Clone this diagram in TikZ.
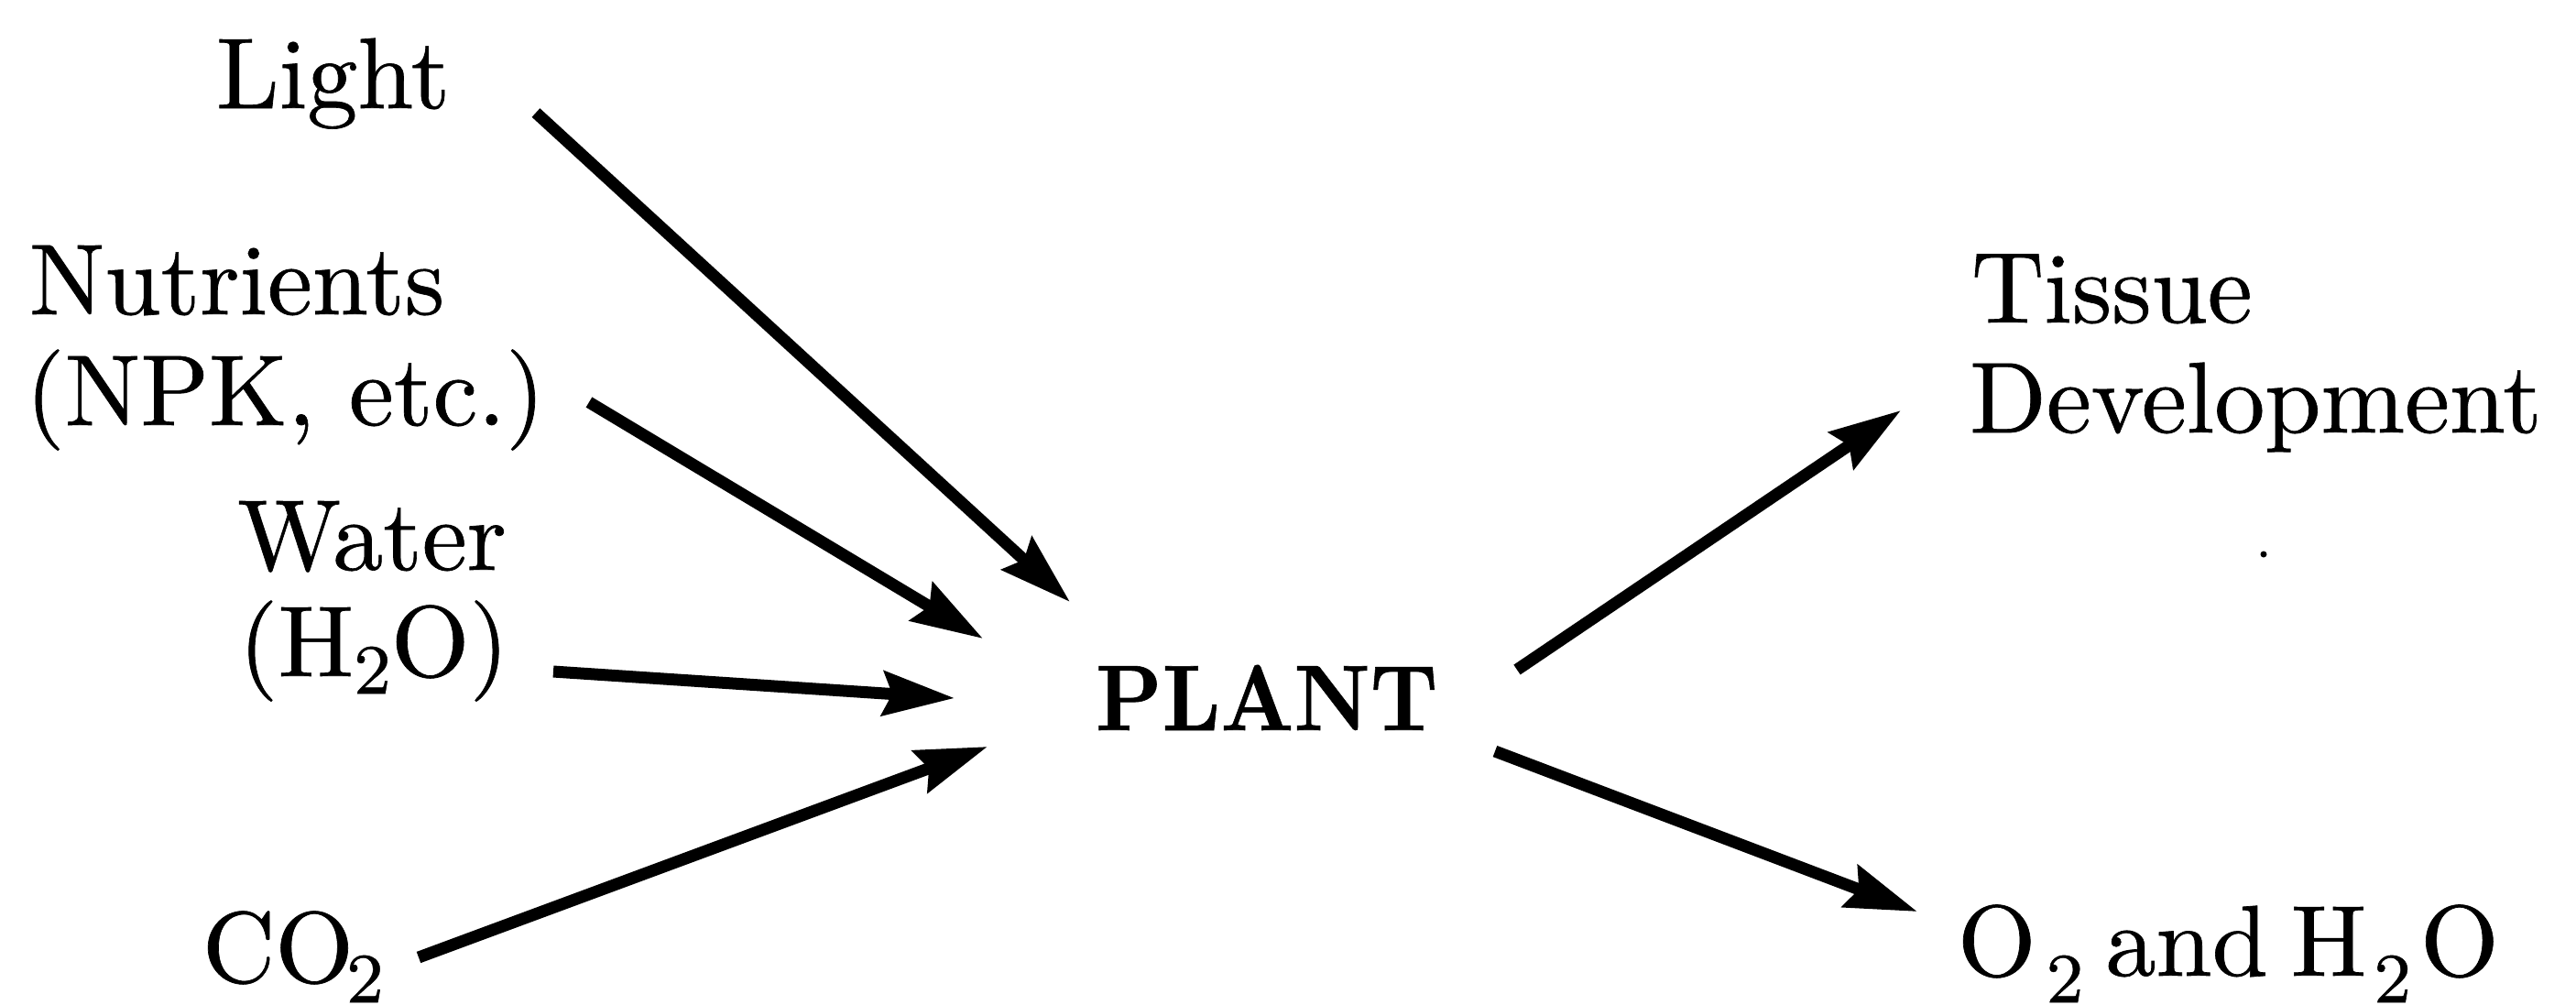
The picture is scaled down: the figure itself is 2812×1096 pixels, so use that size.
\documentclass[tikz,border=0pt]{standalone}
\usepackage{fontspec}
\setmainfont{Latin Modern Roman}[FakeBold=0.6]
\usepackage{graphicx}
\usetikzlibrary{arrows.meta}
% chemical subscript, set lower than the usual text subscript
\newcommand{\lowsub}[2][2.9pt]{\raisebox{-#1}{\fontsize{7.7}{8}\selectfont #2}}

\begin{document}
\begin{tikzpicture}[x=0.1pt,y=-0.1pt,
  lbl/.style={inner sep=0pt, outer sep=0pt, anchor=base west,
              font=\fontsize{11}{12}\selectfont},
  flow/.style={line width=1.3pt, draw=black,
               -{Stealth[length=7.8pt,width=4.8pt,inset=1pt]}}]
\useasboundingbox (0,0) rectangle (2812,1096);

% inputs
\node[lbl] (light) at (236,118) {Light};
\node[lbl] (nutr)  at (32,343)  {Nutrients};
\node[lbl] (npk)   at (28,464)  {(NPK, etc.)};
\node[lbl, anchor=base] (water) at (406,622) {Water};
\node[lbl, anchor=base] (h2o)   at (408,738) {(H\lowsub[1.9pt]{2}O)};
\node[lbl] (co2)   at (221,1072) {CO\hspace{-0.8pt}\lowsub[2.2pt]{2}};

% the plant
\node[lbl, font=\fontsize{10.2}{12}\selectfont\bfseries] (plant) at (1196,797)
  {\scalebox{0.905}[1]{PLANT}};

% outputs
\node[lbl] (tissue) at (2152,352) {Tissue};
\node[lbl] (devel)  at (2150,472) {Development};
\node[lbl] (o2h2o)  at (2137,1065)
  {O\hspace{1.1pt}\lowsub{2}\hspace{2.4pt}and\hspace{2.5pt}H\hspace{0.8pt}\lowsub{2}\hspace{1pt}O};

% arrow ends
\coordinate (light-out) at (585,123);
\coordinate (nutr-out)  at (643,439);
\coordinate (water-out) at (604,733);
\coordinate (co2-out)   at (457,1045);
\coordinate (plant-in1) at (1168,657);
\coordinate (plant-in2) at (1073,697);
\coordinate (plant-in3) at (1042,762);
\coordinate (plant-in4) at (1078,815);
\coordinate (plant-out1) at (1656,731);
\coordinate (plant-out2) at (1632,820);
\coordinate (tissue-in) at (2075,448);
\coordinate (o2-in)     at (2093,995);

\draw[flow] (light-out) -- (plant-in1);
\draw[flow] (nutr-out)  -- (plant-in2);
\draw[flow] (water-out) -- (plant-in3);
\draw[flow] (co2-out)   -- (plant-in4);
\draw[flow] (plant-out1) -- (tissue-in);
\draw[flow] (plant-out2) -- (o2-in);

% small speck of ink
\fill (2471,605) circle[radius=0.35pt];
\end{tikzpicture}
\end{document}
